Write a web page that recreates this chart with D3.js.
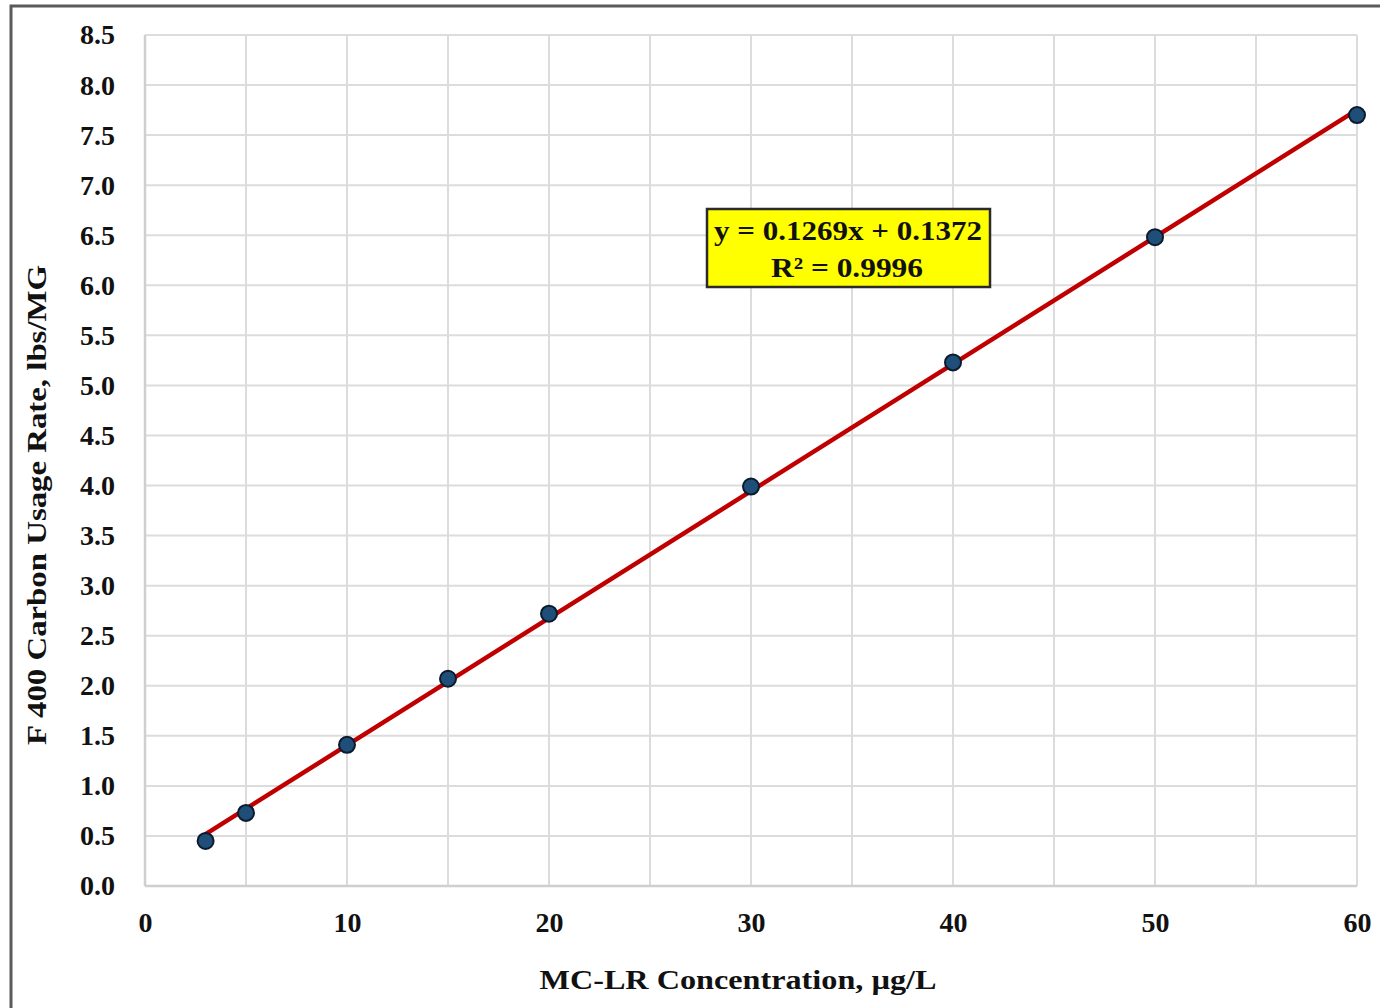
<!DOCTYPE html>
<html>
<head>
<meta charset="utf-8">
<script src="https://cdn.jsdelivr.net/npm/d3@7"></script>
<style>
  html, body { margin: 0; padding: 0; background: #ffffff; }
  svg { display: block; }
  text { font-family: "Liberation Serif", "Times New Roman", serif; font-weight: bold; fill: #111; }
</style>
</head>
<body>
<script>
// MC-LR concentration (µg/L) and F 400 carbon usage rate (lbs/MG)
const concentration = [3, 5, 10, 15, 20, 30, 40, 50, 60];
const usageRate = [0.45, 0.73, 1.41, 2.07, 2.72, 3.99, 5.23, 6.48, 7.70];

// Linear fit reported on the chart
const fitSlope = 0.1269;
const fitIntercept = 0.1372;
const fitR2 = "0.9996";

const xTicks = [0, 10, 20, 30, 40, 50, 60];
const xGrid = [0, 5, 10, 15, 20, 25, 30, 35, 40, 45, 50, 55, 60];
const yTicks = [0, 0.5, 1, 1.5, 2, 2.5, 3, 3.5, 4, 4.5, 5, 5.5, 6, 6.5, 7, 7.5, 8, 8.5];

const W = 1380, H = 1008;
const svg = d3.select("body").append("svg").attr("width", W).attr("height", H);

// Outer chart frame
svg.append("rect")
  .attr("x", 11).attr("y", 6).attr("width", W + 10).attr("height", H + 10)
  .attr("fill", "#fff").attr("stroke", "#5a5a5a").attr("stroke-width", 3);

const plot = { left: 145, right: 1357, top: 35, bottom: 886 };

const x = d3.scaleLinear().domain([0, 60]).range([plot.left, plot.right]);
const y = d3.scaleLinear().domain([0, 8.5]).range([plot.bottom, plot.top]);

// Gridlines
const grid = svg.append("g");
grid.selectAll(".vg").data(xGrid).join("line")
  .attr("x1", d => x(d)).attr("x2", d => x(d))
  .attr("y1", plot.top).attr("y2", plot.bottom)
  .attr("stroke", "#dcdcdc").attr("stroke-width", 2);
grid.selectAll(".hg").data(yTicks).join("line")
  .attr("x1", plot.left).attr("x2", plot.right)
  .attr("y1", d => y(d)).attr("y2", d => y(d))
  .attr("stroke", "#dcdcdc").attr("stroke-width", 2);

// Axis lines
svg.append("line").attr("x1", plot.left).attr("x2", plot.left)
  .attr("y1", plot.top).attr("y2", plot.bottom).attr("stroke", "#cfcfcf").attr("stroke-width", 2.5);
svg.append("line").attr("x1", plot.left).attr("x2", plot.right)
  .attr("y1", plot.bottom).attr("y2", plot.bottom).attr("stroke", "#cfcfcf").attr("stroke-width", 2.5);

// Y axis tick labels
const yAxis = d3.axisLeft(y).tickValues(yTicks).tickFormat(d3.format(".1f")).tickSize(0).tickPadding(30);
const gy = svg.append("g").attr("transform", `translate(${plot.left},0)`).call(yAxis);
gy.select(".domain").remove();
gy.selectAll("text").attr("font-size", 28).attr("font-family", "Liberation Serif, serif")
  .attr("font-weight", "bold").attr("fill", "#111");

// X axis tick labels
const xAxis = d3.axisBottom(x).tickValues(xTicks).tickFormat(d3.format("d")).tickSize(0).tickPadding(26);
const gx = svg.append("g").attr("transform", `translate(0,${plot.bottom})`).call(xAxis);
gx.select(".domain").remove();
gx.selectAll("text").attr("font-size", 28).attr("font-family", "Liberation Serif, serif")
  .attr("font-weight", "bold").attr("fill", "#111");

// Trendline over the data range
const x0 = d3.min(concentration), x1 = d3.max(concentration);
svg.append("line")
  .attr("x1", x(x0)).attr("y1", y(fitSlope * x0 + fitIntercept))
  .attr("x2", x(x1)).attr("y2", y(fitSlope * x1 + fitIntercept))
  .attr("stroke", "#c00000").attr("stroke-width", 4.5).attr("stroke-linecap", "round");

// Data points
svg.append("g").selectAll("circle")
  .data(concentration.map((c, i) => [c, usageRate[i]]))
  .join("circle")
  .attr("cx", d => x(d[0])).attr("cy", d => y(d[1])).attr("r", 8)
  .attr("fill", "#1f4e79").attr("stroke", "#0b1a2c").attr("stroke-width", 2);

// Trendline equation box
const box = svg.append("g");
box.append("rect")
  .attr("x", 707).attr("y", 209).attr("width", 283).attr("height", 78)
  .attr("fill", "#ffff00").attr("stroke", "#2a2a2a").attr("stroke-width", 2.5);
box.append("text").attr("x", 848).attr("y", 240).attr("text-anchor", "middle")
  .attr("font-size", 28).attr("textLength", 268).attr("lengthAdjust", "spacingAndGlyphs")
  .text(`y = ${fitSlope}x + ${fitIntercept}`);
box.append("text").attr("x", 847).attr("y", 277).attr("text-anchor", "middle")
  .attr("font-size", 28).attr("textLength", 152).attr("lengthAdjust", "spacingAndGlyphs")
  .text(`R² = ${fitR2}`);

// Axis titles
svg.append("text")
  .attr("transform", `translate(46,505) rotate(-90)`)
  .attr("text-anchor", "middle").attr("font-size", 28)
  .attr("textLength", 480).attr("lengthAdjust", "spacingAndGlyphs")
  .text("F 400 Carbon Usage Rate, lbs/MG");
svg.append("text")
  .attr("x", 738).attr("y", 989).attr("text-anchor", "middle").attr("font-size", 28)
  .attr("textLength", 397).attr("lengthAdjust", "spacingAndGlyphs")
  .text("MC-LR Concentration, µg/L");
</script>
</body>
</html>
